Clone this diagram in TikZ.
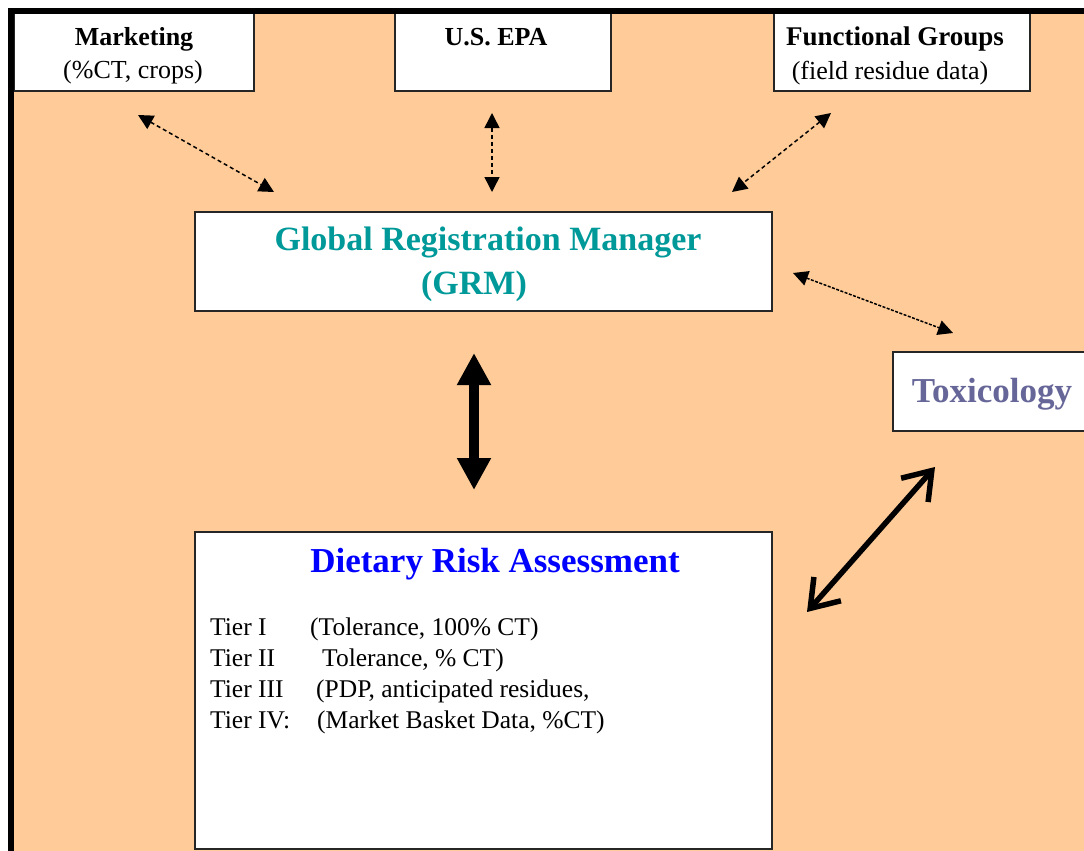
\documentclass[tikz,border=0pt]{standalone}
\usepackage{fontspec}
\setmainfont{Liberation Serif}
\usetikzlibrary{arrows.meta}

\definecolor{peach}{RGB}{255,204,153}
\definecolor{grmteal}{RGB}{0,153,153}
\definecolor{drablue}{RGB}{0,0,255}
\definecolor{toxslate}{RGB}{102,102,153}

\tikzset{
  box/.style={draw=black!85, line width=2pt, fill=white, inner sep=0pt},
  txt/.style={inner sep=0pt, anchor=base},
  toptitle/.style={txt, font=\fontsize{26}{31}\selectfont\bfseries},
  topsub/.style={txt, font=\fontsize{26}{31}\selectfont},
  bigtitle/.style={txt, font=\fontsize{34}{40}\selectfont\bfseries},
  tierline/.style={txt, anchor=base west, font=\fontsize{25.5}{30}\selectfont},
  thinlink/.style={line width=1.5pt, dash pattern=on 4pt off 3pt,
    {Triangle[length=15pt,width=15pt]}-{Triangle[length=15pt,width=15pt]}},
  fatlink/.style={line width=10pt,
    {Triangle[length=32pt,width=32pt]}-{Triangle[length=32pt,width=32pt]}},
  barblink/.style={line width=5.5pt, line join=miter,
    {Straight Barb[length=26pt,width=36pt]}-{Straight Barb[length=26pt,width=36pt]}},
}

\begin{document}
\begin{tikzpicture}[x=1pt, y=-1pt]
  % canvas and background
  \fill[white] (0,0) rectangle (1084,851);
  \useasboundingbox (0,0) rectangle (1084,851);
  \fill[peach] (14,13) rectangle (1084,851);

  % boxes
  \node[box, minimum width=240pt, minimum height=78pt] (mkt) at (134,52) {};
  \node[box, minimum width=216pt, minimum height=78pt] (epa) at (503,52) {};
  \node[box, minimum width=256pt, minimum height=78pt] (fg)  at (902,52) {};
  \node[box, minimum width=577pt, minimum height=99pt] (grm) at (483.5,261.5) {};
  \node[box, minimum width=577pt, minimum height=317pt] (dra) at (483.5,690.5) {};
  \node[box, minimum width=217pt, minimum height=79pt] (tox) at (1001.5,391.5) {};

  % texts of the top boxes
  \node[toptitle] (mktT) at (134,46) {Marketing};
  \node[topsub]   (mktS) at (133,78) {(\%CT, crops)};
  \node[toptitle] (epaT) at (496,46) {U.S. EPA};
  \node[toptitle, font=\fontsize{27}{32}\selectfont\bfseries] (fgT) at (895,46) {Functional Groups};
  \node[topsub]   (fgS)  at (890,79) {(field residue data)};

  % Global Registration Manager
  \node[bigtitle, text=grmteal] (grmT) at (488,250) {Global Registration Manager};
  \node[bigtitle, text=grmteal] (grmS) at (474,294) {(GRM)};

  % Toxicology
  \node[bigtitle, text=toxslate, font=\fontsize{35}{41}\selectfont\bfseries] (toxT) at (992,402) {Toxicology};

  % Dietary Risk Assessment
  \node[bigtitle, text=drablue, font=\fontsize{35}{41}\selectfont\bfseries] (draT) at (495,572) {Dietary Risk Assessment};
  \node[tierline] (t1) at (210,635) {\makebox[100pt][l]{Tier I}(Tolerance, 100\% CT)};
  \node[tierline] (t2) at (210,666) {\makebox[112pt][l]{Tier II}Tolerance, \% CT)};
  \node[tierline] (t3) at (210,697) {\makebox[106pt][l]{Tier III}(PDP, anticipated residues,};
  \node[tierline] (t4) at (210,728) {\makebox[107pt][l]{Tier IV:}(Market Basket Data, \%CT)};

  % connector end points
  \coordinate (mA) at (138,115);  \coordinate (mB) at (274,192);
  \coordinate (eA) at (492,113);  \coordinate (eB) at (492,192);
  \coordinate (fA) at (831,113);  \coordinate (fB) at (732,192);
  \coordinate (gA) at (793,273);  \coordinate (gB) at (953,333);
  \coordinate (vA) at (474,353);  \coordinate (vB) at (474,490);
  \coordinate (dA) at (935,467);  \coordinate (dB) at (807,612);

  % connectors
  \draw[thinlink] (mA) -- (mB);
  \draw[thinlink] (eA) -- (eB);
  \draw[thinlink] (fA) -- (fB);
  \draw[thinlink, dash pattern=on 3pt off 1.5pt] (gA) -- (gB);
  \draw[fatlink] (vA) -- (vB);
  \draw[barblink] (dA) -- (dB);

  % black frame along top and left
  \fill[black] (8,8) rectangle (1084,14);
  \fill[black] (8,8) rectangle (14,851);
\end{tikzpicture}
\end{document}
